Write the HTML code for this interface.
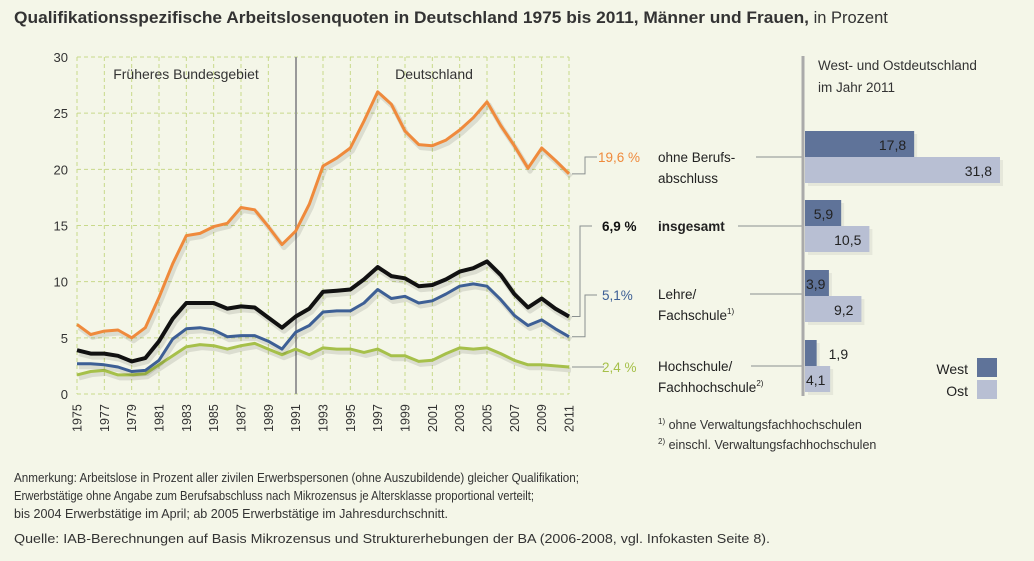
<!DOCTYPE html>
<html><head><meta charset="utf-8"><style>
html,body{margin:0;padding:0;background:#f4f6e8;}
svg{display:block;font-family:"Liberation Sans",sans-serif;}
</style></head><body>
<svg id="c" width="1034" height="561" viewBox="0 0 1034 561" xmlns="http://www.w3.org/2000/svg">
<rect width="1034" height="561" fill="#f4f6e8"/>
<text x="14" y="23" font-size="16.5" fill="#333"><tspan font-weight="bold" textLength="795" lengthAdjust="spacingAndGlyphs">Qualifikationsspezifische Arbeitslosenquoten in Deutschland 1975 bis 2011, Männer und Frauen,</tspan><tspan> in Prozent</tspan></text>
<g id="plot"></g>
<g id="bars"></g>
<text x="14" y="482" font-size="12.5" fill="#333" textLength="565" lengthAdjust="spacingAndGlyphs">Anmerkung: Arbeitslose in Prozent aller zivilen Erwerbspersonen (ohne Auszubildende) gleicher Qualifikation;</text>
<text x="14" y="500" font-size="12.5" fill="#333" textLength="520" lengthAdjust="spacingAndGlyphs">Erwerbstätige ohne Angabe zum Berufsabschluss nach Mikrozensus je Altersklasse proportional verteilt;</text>
<text x="14" y="518" font-size="12.5" fill="#333" textLength="434" lengthAdjust="spacingAndGlyphs">bis 2004 Erwerbstätige im April; ab 2005 Erwerbstätige im Jahresdurchschnitt.</text>
<text x="14" y="543" font-size="12.5" fill="#333" textLength="756" lengthAdjust="spacingAndGlyphs">Quelle: IAB-Berechnungen auf Basis Mikrozensus und Strukturerhebungen der BA (2006-2008, vgl. Infokasten Seite 8).</text>
</svg>
<script>
const years=[1975,1976,1977,1978,1979,1980,1981,1982,1983,1984,1985,1986,1987,1988,1989,1990,1991,1992,1993,1994,1995,1996,1997,1998,1999,2000,2001,2002,2003,2004,2005,2006,2007,2008,2009,2010,2011];
const ohneBeruf=[6.2,5.3,5.6,5.7,5.0,5.9,8.6,11.6,14.1,14.3,14.9,15.2,16.6,16.4,14.9,13.3,14.5,16.9,20.3,21.0,21.9,24.3,26.9,25.8,23.4,22.2,22.1,22.6,23.5,24.6,26.0,23.9,22.1,20.1,21.9,20.8,19.6];
const insgesamt=[3.9,3.6,3.6,3.4,2.9,3.2,4.7,6.7,8.1,8.1,8.1,7.6,7.8,7.7,6.8,5.9,6.9,7.6,9.1,9.2,9.3,10.2,11.3,10.5,10.3,9.6,9.7,10.2,10.9,11.2,11.8,10.6,8.9,7.7,8.5,7.6,6.9];
const lehre=[2.7,2.7,2.6,2.4,2.0,2.1,3.0,4.9,5.8,5.9,5.7,5.1,5.2,5.2,4.7,4.0,5.5,6.1,7.3,7.4,7.4,8.1,9.3,8.5,8.7,8.1,8.3,8.9,9.6,9.8,9.6,8.4,7.0,6.1,6.6,5.8,5.1];
const hochschule=[1.7,2.0,2.1,1.7,1.7,1.8,2.6,3.4,4.2,4.4,4.3,4.0,4.3,4.5,4.0,3.5,4.0,3.5,4.1,4.0,4.0,3.7,4.0,3.4,3.4,2.9,3.0,3.6,4.1,4.0,4.1,3.6,3.0,2.6,2.6,2.5,2.4];
const yTicks=[0,5,10,15,20,25,30];
const endLabels=["19,6 %","6,9 %","5,1%","2,4 %"];
const barCats=["ohne Berufsabschluss","insgesamt","Lehre/Fachschule","Hochschule/Fachhochschule"];
const westVals=[17.8,5.9,3.9,1.9];
const ostVals=[31.8,10.5,9.2,4.1];
const westLabels=["17,8","5,9","3,9","1,9"];
const ostLabels=["31,8","10,5","9,2","4,1"];

const NS="http://www.w3.org/2000/svg";
function el(tag,attrs,parent,text){const e=document.createElementNS(NS,tag);for(const k in attrs)e.setAttribute(k,attrs[k]);if(text!==undefined)e.textContent=text;parent.appendChild(e);return e;}
const X=y=>77+(y-1975)*(492/36);
const Y=v=>394-v*(337/30);
const plot=document.getElementById('plot');
yTicks.forEach(t=>{
 const g=el('line',{x1:77,x2:569,y1:Y(t),y2:Y(t),stroke:'#c8d98a','stroke-width':1,'stroke-dasharray':'4,3'},plot);
 
 
 const l=el('text',{x:68,y:Y(t)+5,'text-anchor':'end','font-size':13,fill:'#333'},plot,String(t));
 
 
});
years.forEach((yr,i)=>{
 if(i%2) return;
 const g=el('line',{x1:X(yr),x2:X(yr),y1:Y(30),y2:Y(0),stroke:'#c8d98a','stroke-width':1,'stroke-dasharray':'4,3'},plot);
 
 
 const l=el('text',{x:0,y:0,transform:`translate(${X(yr)+4.5},432) rotate(-90)`,'font-size':12.5,fill:'#333'},plot,String(yr));
 
 
});
const div=el('line',{x1:296,x2:296,y1:Y(30),y2:Y(0),stroke:'#999','stroke-width':2},plot);


const t1=el('text',{x:186,y:79,'text-anchor':'middle','font-size':14,fill:'#333'},plot,'Früheres Bundesgebiet');


const t2=el('text',{x:434,y:79,'text-anchor':'middle','font-size':14,fill:'#333'},plot,'Deutschland');


const series=[[ohneBeruf,'#ef8a3c',3,'line-ohne-berufsabschluss'],[hochschule,'#a6c04a',3,'line-hochschule'],[lehre,'#3d5f95',3,'line-lehre'],[insgesamt,'#111',4,'line-insgesamt']];
series.forEach(([d,c,w,n])=>{
 const pts=d.map((v,i)=>X(years[i]).toFixed(1)+','+Y(v).toFixed(1)).join(' ');
 el('polyline',{points:pts,fill:'none',stroke:'rgba(0,0,0,0.10)','stroke-width':w+2,transform:'translate(2,3)','stroke-linejoin':'round'},plot);
 const p=el('polyline',{points:pts,fill:'none',stroke:c,'stroke-width':w,'stroke-linejoin':'round'},plot);
 
 
});
const last=years.length-1;
const conn=[[ohneBeruf[last],585,157,'#ef8a3c',598],[insgesamt[last],580,226,'#111',602],[lehre[last],585,295,'#3d5f95',602],[hochschule[last],592,367,'#a6c04a',602]];
conn.forEach(([v,cx,ly,c,tx],i)=>{
 const y0=Y(v);
 const pl=el('polyline',{points:`${X(2011)+3},${y0} ${cx},${y0} ${cx},${ly} ${cx+12},${ly}`,fill:'none',stroke:'#8a9090','stroke-width':1},plot);
 
 
 const t=el('text',{x:tx,y:ly+5,'font-size':13.5,fill:c,'font-weight':i==1?'bold':'normal'},plot,endLabels[i]);
 
 
});
const bars=document.getElementById('bars');
const B=v=>v*(195/31.8);
const bx=805;
const t3=el('text',{x:818,y:70,'font-size':13.5,fill:'#333'},bars,'West- und Ostdeutschland');


const t4=el('text',{x:818,y:92,'font-size':13.5,fill:'#333'},bars,'im Jahr 2011');


const groupTop=[131,200,270,340];
const catLines=[["ohne Berufs-","abschluss"],["insgesamt"],["Lehre/","Fachschule"],["Hochschule/","Fachhochschule"]];
const sup=["","","1)","2)"];
const lineStart=[756,738,750,751];
const lineY=[157,226,294,366];
function placeLabel(val,w,y,txt,name){
 let attrs;
 if(w>30) attrs={x:bx+w-8,'text-anchor':'end'};
 else if(w>20) attrs={x:bx+1,'text-anchor':'start'};
 else attrs={x:bx+w+12,'text-anchor':'start'};
 attrs.y=y; attrs['font-size']=14; attrs.fill='#222';
 const t=el('text',attrs,bars,txt);
 
 
}
westVals.forEach((w,i)=>{
 const o=ostVals[i],y=groupTop[i];
 el('rect',{x:bx+3,y:y+3,width:B(w),height:26,fill:'rgba(0,0,0,0.06)'},bars);
 el('rect',{x:bx+3,y:y+29,width:B(o),height:26,fill:'rgba(0,0,0,0.06)'},bars);
 const r1=el('rect',{x:bx,y:y,width:B(w),height:26,fill:'#5f7399'},bars);
 
 
 const r2=el('rect',{x:bx,y:y+26,width:B(o),height:26,fill:'#b8bfd3'},bars);
 
 
 placeLabel(w,B(w),y+19,westLabels[i],'bar-west-value');
 placeLabel(o,B(o),y+45,ostLabels[i],'bar-ost-value');
 const lt=el('text',{x:658,y:lineY[i]+5,'font-size':13.5,fill:'#222','font-weight':i==1?'bold':'normal'},bars);
 
 
 lt.setAttribute('aria-label',barCats[i]);
 catLines[i].forEach((s,j)=>{el('tspan',{x:658,dy:j?21:0},lt,s);});
 if(sup[i]) el('tspan',{'font-size':8,dy:-6},lt,sup[i]);
 const cl=el('line',{x1:lineStart[i],x2:803,y1:lineY[i],y2:lineY[i],stroke:'#8a9090','stroke-width':1},bars);
 
 
});
const ax=el('line',{x1:803,x2:803,y1:56,y2:396,stroke:'#aaa','stroke-width':3},bars);


const lw=el('text',{x:968,y:374,'text-anchor':'end','font-size':14,fill:'#222'},bars,'West');


const lwb=el('rect',{x:977,y:358,width:20,height:19,fill:'#5f7399'},bars);


const lo=el('text',{x:968,y:396,'text-anchor':'end','font-size':14,fill:'#222'},bars,'Ost');


const lob=el('rect',{x:977,y:380,width:20,height:19,fill:'#b8bfd3'},bars);


const f1=el('text',{x:658,y:429,'font-size':12.5,fill:'#333'},bars);


el('tspan',{'font-size':8,dy:-5},f1,'1)');el('tspan',{dy:5},f1,' ohne Verwaltungsfachhochschulen');
const f2=el('text',{x:658,y:449,'font-size':12.5,fill:'#333'},bars);


el('tspan',{'font-size':8,dy:-5},f2,'2)');el('tspan',{dy:5},f2,' einschl. Verwaltungsfachhochschulen');
</script>
</body></html>
